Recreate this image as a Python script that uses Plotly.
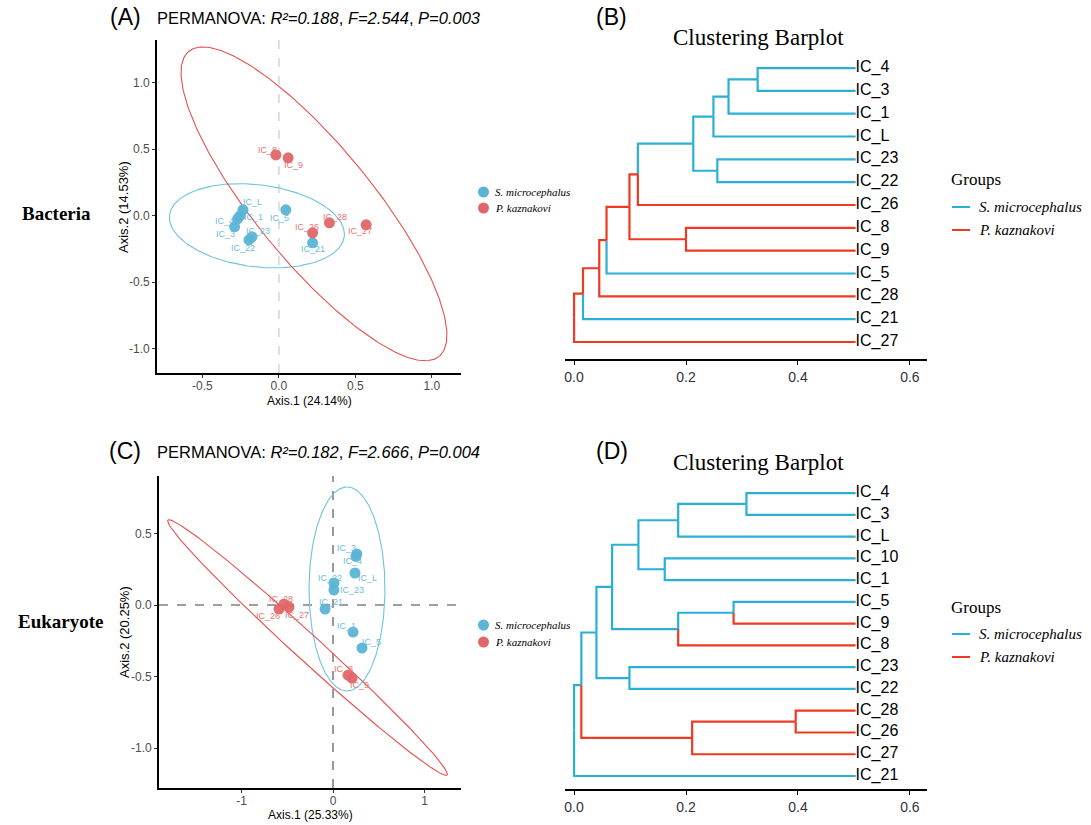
import plotly.graph_objects as go
import numpy as np

W, H = 1091, 825

# ---------------- data: panel A (Bacteria PCoA) ----------------
A_names = ["IC_L", "IC_1", "IC_4", "IC_3", "IC_5", "IC_21", "IC_22", "IC_23",
           "IC_8", "IC_9", "IC_26", "IC_28", "IC_27"]
A_group = ["S", "S", "S", "S", "S", "S", "S", "S", "P", "P", "P", "P", "P"]
A_x = [-0.235, -0.255, -0.27, -0.29, 0.045, 0.22, -0.196, -0.176,
       -0.02, 0.06, 0.22, 0.33, 0.57]
A_y = [0.043, -0.002, -0.025, -0.085, 0.043, -0.205, -0.183, -0.160,
       0.456, 0.434, -0.130, -0.055, -0.070]
# ellipse: centre, semi-diameter vectors
A_ell_S = [(-0.144, -0.077), (0.571, -0.0806), (-0.0327, -0.306)]
A_ell_P = [(0.229, 0.088), (0.818, -1.147), (-0.293, -0.276)]

# ---------------- data: panel C (Eukaryote PCoA) ----------------
C_names = ["IC_3", "IC_4", "IC_L", "IC_22", "IC_23", "IC_21", "IC_1", "IC_5",
           "IC_8", "IC_9", "IC_28", "IC_26", "IC_27"]
C_group = ["S", "S", "S", "S", "S", "S", "S", "S", "P", "P", "P", "P", "P"]
C_x = [0.26, 0.25, 0.24, 0.01, 0.01, -0.087, 0.219, 0.317,
       0.164, 0.208, -0.536, -0.590, -0.481]
C_y = [0.357, 0.34, 0.224, 0.154, 0.105, -0.028, -0.189, -0.301,
       -0.490, -0.510, 0.007, -0.028, -0.014]
C_ell_S = [(0.153, 0.112), (0.0, 0.713), (0.415, 0.0)]
C_ell_P = [(-0.279, -0.297), (1.526, -0.891), (-0.0958, -0.0672)]

# ---------------- data: dendrogram B (Bacteria) ----------------
B_leaves = ["IC_4", "IC_3", "IC_1", "IC_L", "IC_23", "IC_22", "IC_26", "IC_8",
            "IC_9", "IC_5", "IC_28", "IC_21", "IC_27"]
B_leaf_group = ["S", "S", "S", "S", "S", "S", "P", "P", "P", "S", "P", "S", "P"]
B_leaf_depth = 0.503
B_nodes = [  # name, child1, child2, depth from root, group
    ("n43", "IC_4", "IC_3", 0.328, "S"),
    ("n431", "n43", "IC_1", 0.276, "S"),
    ("n431L", "n431", "IC_L", 0.249, "S"),
    ("n2322", "IC_23", "IC_22", 0.256, "S"),
    ("nA", "n431L", "n2322", 0.213, "S"),
    ("nA26", "nA", "IC_26", 0.114, "P"),
    ("n89", "IC_8", "IC_9", 0.200, "P"),
    ("nB", "nA26", "n89", 0.099, "P"),
    ("nB5", "nB", "IC_5", 0.058, "P"),
    ("nB28", "nB5", "IC_28", 0.045, "P"),
    ("nB21", "nB28", "IC_21", 0.016, "P"),
    ("root", "nB21", "IC_27", 0.0, "P"),
]

# ---------------- data: dendrogram D (Eukaryote) ----------------
D_leaves = ["IC_4", "IC_3", "IC_L", "IC_10", "IC_1", "IC_5", "IC_9", "IC_8",
            "IC_23", "IC_22", "IC_28", "IC_26", "IC_27", "IC_21"]
D_leaf_group = ["S", "S", "S", "S", "S", "S", "P", "P", "S", "S", "P", "P", "P", "S"]
D_leaf_depth = 0.503
D_nodes = [
    ("d43", "IC_4", "IC_3", 0.308, "S"),
    ("d43L", "d43", "IC_L", 0.186, "S"),
    ("d101", "IC_10", "IC_1", 0.162, "S"),
    ("dU", "d43L", "d101", 0.115, "S"),
    ("d59", "IC_5", "IC_9", 0.285, "S"),
    ("d598", "d59", "IC_8", 0.186, "S"),
    ("dV", "dU", "d598", 0.068, "S"),
    ("d2322", "IC_23", "IC_22", 0.099, "S"),
    ("dW", "dV", "d2322", 0.040, "S"),
    ("d2826", "IC_28", "IC_26", 0.396, "P"),
    ("d282627", "d2826", "IC_27", 0.211, "P"),
    ("dX", "dW", "d282627", 0.013, "S"),
    ("root", "dX", "IC_21", 0.0, "S"),
]

tree_ticks = [0.0, 0.2, 0.4, 0.6]
tree_ticktext = ["0.0", "0.2", "0.4", "0.6"]

# ---------------- styles ----------------
PT = {"S": "#5BB3D5", "P": "#E06767"}
LAB = {"S": "#6DBCDB", "P": "#E57575"}
ELL = {"S": "#6EC3DF", "P": "#E5504F"}
TREE = {"S": "#2AAFD6", "P": "#EE3A22"}
SANS = "Liberation Sans, Arial, sans-serif"
SERIF = "Liberation Serif, Times New Roman, serif"

# label offsets (pixels) for point labels
A_off = {"IC_8": (-8, 5), "IC_9": (5, -7), "IC_L": (10, 8), "IC_1": (14, -1),
         "IC_4": (-13, -2), "IC_3": (-9, -7), "IC_23": (6, 6), "IC_22": (-6, -8),
         "IC_5": (-6, -8), "IC_26": (-6, 6), "IC_28": (6, 6), "IC_27": (-6, -6),
         "IC_21": (0, -6)}
C_off = {"IC_3": (-10, 6), "IC_4": (-3, -5), "IC_L": (13, -5), "IC_22": (-4, 5),
         "IC_23": (18, 0), "IC_21": (6, 7), "IC_1": (-7, 6), "IC_5": (9, 6),
         "IC_8": (-5, 6), "IC_9": (7, -7), "IC_28": (-3, 5), "IC_26": (-11, -7),
         "IC_27": (8, -8)}

fig = go.Figure()
annotations = []
shapes = []


def px(x):
    return x / W


def py(y):
    return 1 - y / H


def ellipse(params):
    (cx, cy), (ax, ay), (bx, by) = params
    t = np.linspace(0, 2 * np.pi, 300)
    return cx + np.cos(t) * ax + np.sin(t) * bx, cy + np.cos(t) * ay + np.sin(t) * by


def pcoa(names, groups, xs, ys, ellS, ellP, xa, ya, offs):
    for params, g in ((ellS, "S"), (ellP, "P")):
        ex, ey = ellipse(params)
        fig.add_trace(go.Scatter(x=ex, y=ey, mode="lines", xaxis=xa, yaxis=ya,
                                 line=dict(color=ELL[g], width=1.1),
                                 showlegend=False, hoverinfo="skip"))
    for g in ("S", "P"):
        gx = [x for x, gg in zip(xs, groups) if gg == g]
        gy = [y for y, gg in zip(ys, groups) if gg == g]
        fig.add_trace(go.Scatter(x=gx, y=gy, mode="markers", xaxis=xa, yaxis=ya,
                                 marker=dict(size=11, color=PT[g], opacity=0.95),
                                 showlegend=False))
    for n, g, x, y in zip(names, groups, xs, ys):
        dx, dy = offs[n]
        annotations.append(dict(x=x, y=y, xref=xa, yref=ya, text=n, showarrow=False,
                                xshift=dx, yshift=dy,
                                font=dict(size=9, color=LAB[g], family=SANS)))


def tree(leaves, leaf_group, leaf_depth, nodes, xa, ya):
    n = len(leaves)
    pos = {}
    grp = {}
    for i, (lf, g) in enumerate(zip(leaves, leaf_group)):
        pos[lf] = (leaf_depth, n - i)
        grp[lf] = g
    for name, c1, c2, d, g in nodes:
        pos[name] = (d, (pos[c1][1] + pos[c2][1]) / 2)
        grp[name] = g
    segs = {"S": ([], []), "P": ([], [])}
    for name, c1, c2, d, g in nodes:
        nx, ny = pos[name]
        for c in (c1, c2):
            cx, cy = pos[c]
            sx, sy = segs[grp[c]]
            sx += [nx, nx, cx, None]
            sy += [ny, cy, cy, None]
    for g in ("S", "P"):
        fig.add_trace(go.Scatter(x=segs[g][0], y=segs[g][1], mode="lines",
                                 xaxis=xa, yaxis=ya,
                                 line=dict(color=TREE[g], width=2.2),
                                 showlegend=False, hoverinfo="skip"))
    fig.add_trace(go.Scatter(x=[leaf_depth] * n, y=[n - i for i in range(n)],
                             text=leaves, mode="text", textposition="middle right",
                             xaxis=xa, yaxis=ya, cliponaxis=False,
                             textfont=dict(size=16, color="black", family=SANS),
                             showlegend=False, hoverinfo="skip"))


pcoa(A_names, A_group, A_x, A_y, A_ell_S, A_ell_P, "x", "y", A_off)
pcoa(C_names, C_group, C_x, C_y, C_ell_S, C_ell_P, "x2", "y2", C_off)
tree(B_leaves, B_leaf_group, B_leaf_depth, B_nodes, "x3", "y3")
tree(D_leaves, D_leaf_group, D_leaf_depth, D_nodes, "x4", "y4")

# dashed reference lines
shapes.append(dict(type="line", xref="x", yref="y domain", x0=0, x1=0, y0=0, y1=1,
                   line=dict(color="#CFCFCF", width=1.3, dash="dash"), layer="below"))
shapes.append(dict(type="line", xref="x2", yref="y2 domain", x0=0, x1=0, y0=0, y1=1,
                   line=dict(color="#808080", width=1.6, dash="dash"), layer="below"))
shapes.append(dict(type="line", xref="x2 domain", yref="y2", x0=0, x1=1, y0=0, y1=0,
                   line=dict(color="#808080", width=1.6, dash="dash"), layer="below"))

tickfont_small = dict(size=12, color="#4D4D4D", family=SANS)
common_ax = dict(showgrid=False, zeroline=False, showline=True, linecolor="black",
                 linewidth=1.6, ticks="outside", ticklen=3, tickwidth=1,
                 tickcolor="#333333", tickfont=tickfont_small)

layout = dict(
    width=W, height=H, margin=dict(l=0, r=0, t=0, b=0),
    paper_bgcolor="white", plot_bgcolor="white", showlegend=False,
    xaxis=dict(domain=[px(157), px(461)], range=[-0.797, 1.190], anchor="y",
               ticklabelstandoff=-2,
               tickvals=[-0.5, 0, 0.5, 1.0], ticktext=["-0.5", "0.0", "0.5", "1.0"], **common_ax),
    yaxis=dict(domain=[py(373), py(40)], range=[-1.184, 1.320], anchor="x",
               tickvals=[-1, -0.5, 0, 0.5, 1], ticktext=["-1.0", "-0.5", "0.0", "0.5", "1.0"], **common_ax),
    xaxis2=dict(domain=[px(159), px(461)], range=[-1.902, 1.399], anchor="y2",
                ticklabelstandoff=-2,
                tickvals=[-1, 0, 1], ticktext=["-1", "0", "1"], **common_ax),
    yaxis2=dict(domain=[py(788), py(476)], range=[-1.279, 0.902], anchor="x2",
                tickvals=[-1, -0.5, 0, 0.5], ticktext=["-1.0", "-0.5", "0.0", "0.5"], **common_ax),
    xaxis3=dict(domain=[px(565), px(927)], range=[-0.0162, 0.6306], anchor="y3",
                tickvals=tree_ticks, ticktext=tree_ticktext, showgrid=False, zeroline=False,
                showline=True, linecolor="black", linewidth=1.6, ticks="outside",
                ticklen=4, tickcolor="black",
                tickfont=dict(size=14, color="#333333", family=SANS)),
    yaxis3=dict(domain=[py(359), py(50)], range=[0.255, 13.79], anchor="x3",
                visible=False),
    xaxis4=dict(domain=[px(565), px(927)], range=[-0.0162, 0.6306], anchor="y4",
                tickvals=tree_ticks, ticktext=tree_ticktext, showgrid=False, zeroline=False,
                showline=True, linecolor="black", linewidth=1.6, ticks="outside",
                ticklen=4, tickcolor="black",
                tickfont=dict(size=14, color="#333333", family=SANS)),
    yaxis4=dict(domain=[py(789), py(480)], range=[0.403, 14.60], anchor="x4",
                visible=False),
)


def ann(xp, yp, text, size, family=SANS, color="black", angle=0, xanchor="center"):
    annotations.append(dict(x=px(xp), y=py(yp), xref="paper", yref="paper", text=text,
                            showarrow=False, xanchor=xanchor, yanchor="middle",
                            textangle=angle, borderpad=0,
                            font=dict(size=size, family=family, color=color)))


# panel letters and PERMANOVA text
ann(125, 17, "(A)", 23)
ann(156, 18, "PERMANOVA: <i>R²=0.188</i>, <i>F=2.544</i>, <i>P=0.003</i>", 16.5, xanchor="left")
ann(125, 451, "(C)", 23)
ann(156, 452, "PERMANOVA: <i>R²=0.182</i>, <i>F=2.666</i>, <i>P=0.004</i>", 16.5, xanchor="left")
ann(612, 17, "(B)", 23)
ann(612, 451, "(D)", 23)
ann(758, 38, "Clustering Barplot", 23, family=SERIF)
ann(758, 462, "Clustering Barplot", 23, family=SERIF)
ann(21, 213, "<b>Bacteria</b>", 19, family=SERIF, xanchor="left")
ann(17, 621, "<b>Eukaryote</b>", 19, family=SERIF, xanchor="left")

# axis titles
ann(309, 401, "Axis.1 (24.14%)", 12)
ann(123, 207, "Axis.2 (14.53%)", 13, angle=-90)
ann(310, 815, "Axis.1 (25.33%)", 12)
ann(124, 632, "Axis.2 (20.25%)", 13, angle=-90)

# PCoA legends
for (y1, y2) in ((192, 208), (625, 642)):
    for yy, g, lab in ((y1, "S", "<i>S. microcephalus</i>"), (y2, "P", "<i>P. kaznakovi</i>")):
        shapes.append(dict(type="circle", xref="paper", yref="paper",
                           x0=px(478), x1=px(489), y0=py(yy + 5.5), y1=py(yy - 5.5),
                           fillcolor=PT[g], line=dict(width=0)))
        ann(494, yy, lab, 11, family=SERIF, xanchor="left")

# dendrogram legends
for (yt, y1, y2) in ((180, 207, 230), (607, 634, 657)):
    ann(950, yt, "Groups", 17, family=SERIF, xanchor="left")
    for yy, g, lab in ((y1, "S", "<i>S. microcephalus</i>"), (y2, "P", "<i>P. kaznakovi</i>")):
        shapes.append(dict(type="line", xref="paper", yref="paper",
                           x0=px(952), x1=px(970), y0=py(yy), y1=py(yy),
                           line=dict(color=TREE[g], width=2)))
        ann(978, yy, lab, 15, family=SERIF, xanchor="left")

layout["annotations"] = annotations
layout["shapes"] = shapes
fig.update_layout(**layout)
fig.write_html("out.html", config={"displayModeBar": False},
               post_script="document.body.style.margin='0px';document.body.style.overflow='hidden';")
